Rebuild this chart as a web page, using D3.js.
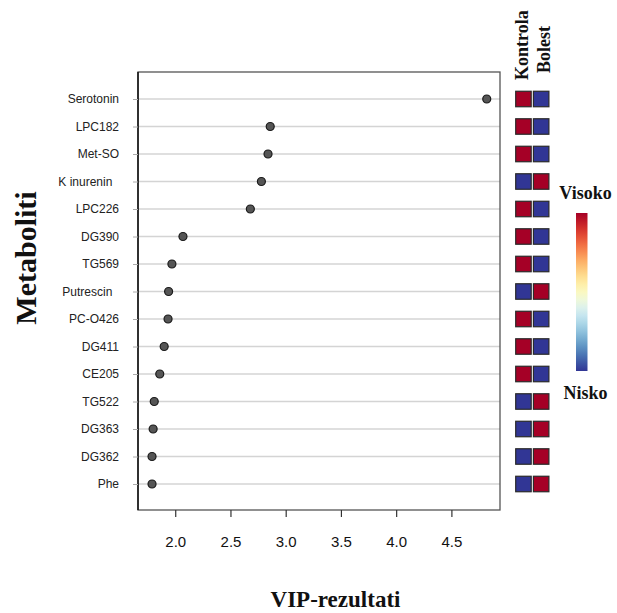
<!DOCTYPE html>
<html>
<head>
<meta charset="utf-8">
<script src="https://cdn.jsdelivr.net/npm/d3@7"></script>
<style>
  html, body { margin: 0; padding: 0; background: #fff; }
  svg { display: block; }
</style>
</head>
<body>
<script>
// ---- data ----
const metabolites = ["Serotonin","LPC182","Met-SO","K inurenin  ","LPC226","DG390","TG569","Putrescin  ","PC-O426","DG411","CE205","TG522","DG363","DG362","Phe"];
const vipScores   = [4.82, 2.86, 2.84, 2.78, 2.68, 2.07, 1.97, 1.94, 1.935, 1.90, 1.86, 1.81, 1.80, 1.79, 1.79];
const groups = ["Kontrola", "Bolest"];
// relative level (1 = high, 0 = low) per metabolite, per group
const kontrolaLevel = [1,1,1,0,1,1,1,0,1,1,1,0,0,0,0];
const bolestLevel   = [0,0,0,1,0,0,0,1,0,0,0,1,1,1,1];
const xTicks = [2.0, 2.5, 3.0, 3.5, 4.0, 4.5];
const legendHigh = "Visoko", legendLow = "Nisko";
const xTitle = "VIP-rezultati", yTitle = "Metaboliti";

// ---- layout ----
const W = 617, H = 613;
const svg = d3.select("body").append("svg").attr("width", W).attr("height", H);
const box = {left: 138, right: 500, top: 72, bottom: 510};

const x = d3.scaleLinear().domain([1.663, 4.94]).range([box.left, box.right]);
const y = d3.scalePoint().domain(metabolites).range([99, 484]);
const color = d3.scaleSequential(t => d3.interpolateRdYlBu(1 - t)).domain([0, 1]);
const xg = d3.scaleBand().domain(groups).range([515.7, 548.9]).paddingInner(0.125);

// grid lines
svg.append("g").selectAll("line").data(metabolites).join("line")
  .attr("x1", box.left).attr("x2", box.right)
  .attr("y1", d => y(d)).attr("y2", d => y(d))
  .attr("stroke", "#d4d4d4").attr("stroke-width", 1.5);

// frame
svg.append("rect")
  .attr("x", box.left).attr("y", box.top)
  .attr("width", box.right - box.left).attr("height", box.bottom - box.top)
  .attr("fill", "none").attr("stroke", "#555").attr("stroke-width", 1.3);
svg.append("line").attr("x1", box.left).attr("x2", box.left)
  .attr("y1", box.top).attr("y2", box.bottom).attr("stroke", "#111").attr("stroke-width", 1.5);

// y axis (labels + small ticks)
const yAxis = svg.append("g").attr("transform", `translate(${box.left},0)`)
  .call(d3.axisLeft(y).tickSize(5).tickPadding(14));
yAxis.select(".domain").remove();
yAxis.selectAll(".tick line").attr("stroke", "#aaa");
yAxis.selectAll(".tick text")
  .attr("font-family", "Liberation Sans, Arial, sans-serif")
  .attr("font-size", 12).attr("fill", "#222")
  .attr("xml:space", "preserve")
  .style("white-space", "pre");

// x axis
const xAxis = svg.append("g").attr("transform", `translate(0,${box.bottom})`)
  .call(d3.axisBottom(x).tickValues(xTicks).tickFormat(d3.format(".1f")).tickSize(7).tickPadding(19));
xAxis.select(".domain").remove();
xAxis.selectAll(".tick line").attr("stroke", "#333").attr("stroke-width", 1.2);
xAxis.selectAll(".tick text")
  .attr("font-family", "Liberation Sans, Arial, sans-serif")
  .attr("font-size", 15).attr("fill", "#111");

// points
svg.append("g").selectAll("circle").data(metabolites).join("circle")
  .attr("cx", (d, i) => x(vipScores[i]))
  .attr("cy", d => y(d))
  .attr("r", 4)
  .attr("fill", "#555").attr("stroke", "#1a1a1a").attr("stroke-width", 1.2);

// heatmap
const levels = {Kontrola: kontrolaLevel, Bolest: bolestLevel};
const hm = svg.append("g");
groups.forEach(g => {
  hm.append("g").selectAll("rect").data(metabolites).join("rect")
    .attr("x", xg(g))
    .attr("y", d => y(d) - xg.bandwidth() / 2)
    .attr("width", xg.bandwidth()).attr("height", xg.bandwidth())
    .attr("fill", (d, i) => color(levels[g][i]))
    .attr("stroke", "#2a2a2a").attr("stroke-width", 1.2);
});

// column headers
const headerX = {Kontrola: 528, Bolest: 550};
const headerY = {Kontrola: 80, Bolest: 73};
groups.forEach(g => {
  svg.append("text")
    .attr("transform", `translate(${headerX[g]},${headerY[g]}) rotate(-90)`)
    .attr("font-family", "Liberation Serif, Times New Roman, serif")
    .attr("font-weight", "bold").attr("font-size", 18)
    .attr("fill", "#111")
    .text(g);
});

// color legend
const defs = svg.append("defs");
const grad = defs.append("linearGradient").attr("id", "cbar")
  .attr("x1", 0).attr("x2", 0).attr("y1", 0).attr("y2", 1);
d3.range(0, 1.0001, 0.05).forEach(t => {
  grad.append("stop").attr("offset", t).attr("stop-color", color(1 - t));
});
svg.append("rect").attr("x", 576).attr("y", 213).attr("width", 11.5).attr("height", 158)
  .attr("fill", "url(#cbar)");
svg.append("text").attr("x", 585.5).attr("y", 199).attr("text-anchor", "middle")
  .attr("font-family", "Liberation Serif, Times New Roman, serif")
  .attr("font-weight", "bold").attr("font-size", 18).attr("fill", "#111")
  .text(legendHigh);
svg.append("text").attr("x", 585.5).attr("y", 399).attr("text-anchor", "middle")
  .attr("font-family", "Liberation Serif, Times New Roman, serif")
  .attr("font-weight", "bold").attr("font-size", 18).attr("fill", "#111")
  .text(legendLow);

// axis titles
svg.append("text").attr("x", 335.5).attr("y", 607).attr("text-anchor", "middle")
  .attr("font-family", "Liberation Serif, Times New Roman, serif")
  .attr("font-weight", "bold").attr("font-size", 23).attr("fill", "#111")
  .text(xTitle);
svg.append("text")
  .attr("transform", "translate(36,258) rotate(-90)")
  .attr("text-anchor", "middle")
  .attr("font-family", "Liberation Serif, Times New Roman, serif")
  .attr("font-weight", "bold").attr("font-size", 30).attr("fill", "#111")
  .text(yTitle);
</script>
</body>
</html>
